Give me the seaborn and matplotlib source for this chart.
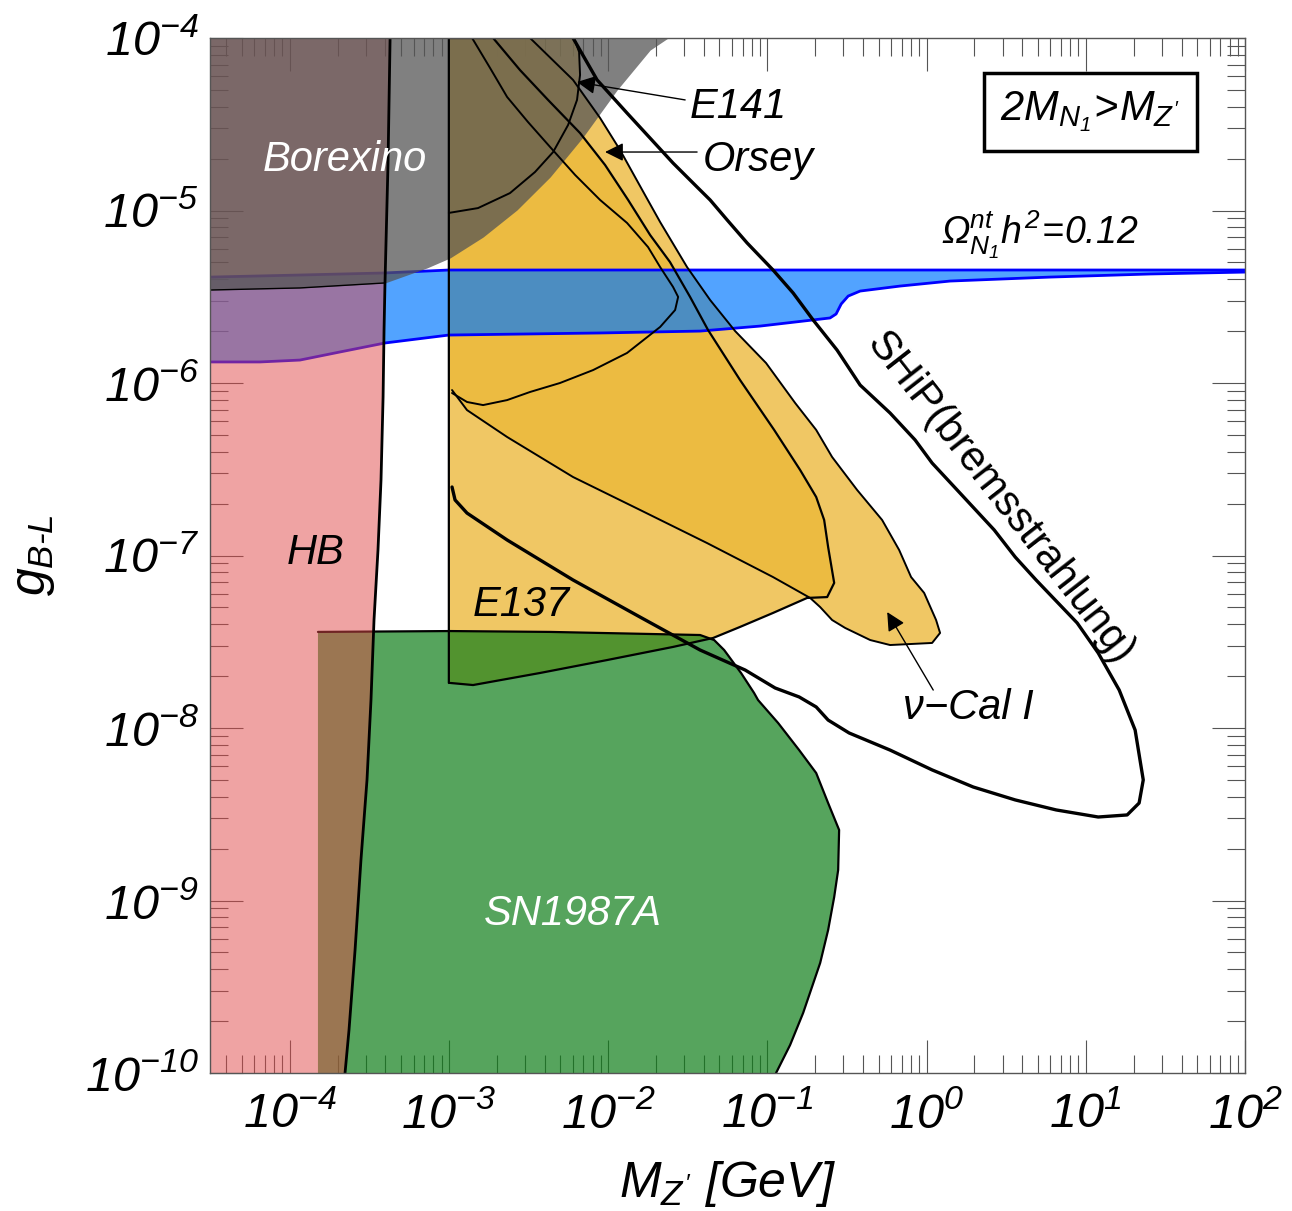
import numpy as np
import matplotlib
matplotlib.use("Agg")
import matplotlib.pyplot as plt
from matplotlib.ticker import LogLocator, NullFormatter
import seaborn as sns

# ------------------------------------------------------------------
# Exclusion contours in the (M_Z', g_B-L) plane, stored as
# log10(M_Z' / GeV) and log10(g_B-L)
# ------------------------------------------------------------------

# Horizontal-branch stars: excluded to the left of this line
hb_logm = [-3.369, -3.382, -3.401, -3.407, -3.413, -3.426, -3.445, -3.470,
           -3.489, -3.514, -3.552, -3.589, -3.627, -3.652]
hb_logg = [-4.000, -4.725, -5.420, -5.693, -6.081, -6.562, -6.968, -7.374,
           -7.838, -8.301, -8.765, -9.287, -9.751, -10.000]

# Borexino: excluded above this line
borexino_logm = [-4.5, -3.935, -3.401, -3.137, -2.992, -2.785, -2.572, -2.364,
                 -2.157, -1.943, -1.736, -1.623]
borexino_logg = [-5.461, -5.449, -5.420, -5.333, -5.275, -5.154, -4.997, -4.806,
                 -4.574, -4.301, -4.070, -4.000]

# Relic density band, Omega h^2 = 0.12 (upper and lower edges)
relic_top_logm = [-4.5, -3.935, -3.401, -3.0, -1.0, 0.5, 2.0]
relic_top_logg = [-5.386, -5.374, -5.362, -5.345, -5.345, -5.345, -5.345]
relic_bot_logm = [-4.5, -4.186, -3.935, -3.683, -3.401, -3.0, -2.050, -1.422,
                  -1.045, -0.606, -0.568, -0.536, -0.492, -0.417, -0.166, 0.148,
                  0.776, 1.405, 2.0]
relic_bot_logg = [-5.878, -5.878, -5.867, -5.820, -5.768, -5.722, -5.710, -5.699,
                  -5.670, -5.623, -5.600, -5.542, -5.496, -5.467, -5.438, -5.409,
                  -5.386, -5.368, -5.357]

# SN1987A cooling region
sn_logm = [-3.822, -2.992, -2.364, -1.736, -1.422, -1.334, -1.271, -1.165,
           -1.083, -1.058, -0.932, -0.800, -0.693, -0.618, -0.549, -0.555,
           -0.580, -0.618, -0.668, -0.775, -0.857, -0.945, -3.822]
sn_logg = [-7.443, -7.438, -7.443, -7.455, -7.461, -7.490, -7.548, -7.681,
           -7.797, -7.838, -7.971, -8.128, -8.261, -8.435, -8.591, -8.823,
           -8.980, -9.171, -9.362, -9.652, -9.838, -10.000, -10.000]

# E137 beam dump
e137_logm = [-3.0, -3.0, -2.722, -2.553, -2.377, -2.176, -2.019, -1.874, -1.736,
             -1.611, -1.485, -1.372, -1.171, -0.957, -0.794, -0.693, -0.643,
             -0.618, -0.580, -0.624, -0.750, -0.964, -1.171, -1.340, -1.592,
             -2.006, -2.427, -2.848, -2.990]
e137_logg = [-7.739, -4.000, -4.000, -4.186, -4.359, -4.551, -4.736, -4.939,
             -5.142, -5.299, -5.501, -5.693, -5.983, -6.272, -6.504, -6.661,
             -6.794, -6.951, -7.159, -7.241, -7.246, -7.333, -7.414, -7.478,
             -7.530, -7.606, -7.681, -7.751, -7.739]

# nu-Cal I / Orsay beam dumps (outer envelope)
nucal_logm = [-3.0, -2.490, -2.220, -2.050, -1.925, -1.768, -1.673, -1.504,
              -1.359, -1.202, -1.008, -0.825, -0.693, -0.593, -0.436, -0.279,
              -0.172, -0.097, -0.015, 0.060, 0.085, 0.035, -0.229, -0.354,
              -0.511, -0.593, -0.668, -0.731, -0.964, -1.378, -1.799, -2.220,
              -2.634, -2.886, -2.980, -3.0]
nucal_logg = [-4.000, -4.000, -4.243, -4.464, -4.649, -4.910, -5.067, -5.328,
              -5.519, -5.699, -5.884, -6.116, -6.272, -6.429, -6.620, -6.794,
              -6.968, -7.125, -7.217, -7.374, -7.449, -7.507, -7.519, -7.490,
              -7.420, -7.374, -7.299, -7.246, -7.125, -6.928, -6.736, -6.545,
              -6.313, -6.157, -6.041, -6.041]

# E141 beam dump
e141_logm = [-3.0, -2.214, -2.182, -2.176, -2.195, -2.251, -2.345, -2.459,
             -2.616, -2.817, -3.0]
e141_logg = [-4.000, -4.000, -4.081, -4.214, -4.359, -4.504, -4.661, -4.777,
             -4.899, -4.986, -5.014]

# Orsay contour (outline only)
orsay_logm = [-2.854, -2.741, -2.634, -2.503, -2.364, -2.207, -2.050, -1.881,
              -1.749, -1.673, -1.592, -1.560, -1.579, -1.673, -1.881, -2.094,
              -2.302, -2.490, -2.634, -2.785, -2.886, -2.980]
orsay_logg = [-4.000, -4.174, -4.342, -4.487, -4.632, -4.794, -4.939, -5.072,
              -5.212, -5.328, -5.443, -5.501, -5.577, -5.675, -5.826, -5.925,
              -6.000, -6.052, -6.099, -6.128, -6.110, -6.058]

# SHiP (bremsstrahlung) projected sensitivity
ship_logm = [-2.980, -2.961, -2.886, -2.634, -2.220, -1.799, -1.422, -1.139,
             -0.951, -0.800, -0.693, -0.618, -0.486, -0.229, 0.035, 0.293,
             0.557, 0.814, 1.078, 1.260, 1.335, 1.361, 1.310, 1.210, 1.078,
             0.946, 0.688, 0.557, 0.425, 0.192, 0.035, -0.072, -0.229, -0.417,
             -0.562, -0.712, -0.838, -0.964, -1.127, -1.252, -1.359, -1.441,
             -1.592, -1.881, -2.069, -2.220]
ship_logg = [-6.603, -6.678, -6.754, -6.910, -7.142, -7.357, -7.548, -7.664,
             -7.768, -7.820, -7.878, -7.954, -8.029, -8.128, -8.243, -8.342,
             -8.417, -8.475, -8.516, -8.504, -8.435, -8.301, -8.012, -7.780,
             -7.565, -7.391, -7.142, -7.009, -6.852, -6.620, -6.464, -6.330,
             -6.174, -6.012, -5.809, -5.635, -5.478, -5.345, -5.188, -5.055,
             -4.939, -4.864, -4.725, -4.435, -4.243, -4.000]

xmajor_exp = list(range(-4, 3))
ymajor_exp = list(range(-10, -3))


def lin(v):
    return 10.0 ** np.asarray(v, dtype=float)


# ------------------------------------------------------------------
sns.set_style("ticks")
plt.rcParams["font.family"] = ["Liberation Sans", "DejaVu Sans"]
plt.rcParams["font.style"] = "italic"
plt.rcParams["text.color"] = "black"
plt.rcParams["axes.labelcolor"] = "black"
plt.rcParams["xtick.labelcolor"] = "black"
plt.rcParams["ytick.labelcolor"] = "black"
plt.rcParams["mathtext.fontset"] = "custom"
plt.rcParams["mathtext.rm"] = "Liberation Sans:italic"
plt.rcParams["mathtext.it"] = "Liberation Sans:italic"
plt.rcParams["mathtext.sf"] = "Liberation Sans:italic"
plt.rcParams["mathtext.bf"] = "Liberation Sans:italic:bold"

fig = plt.figure(figsize=(12.92, 12.11), dpi=100)
ax = fig.add_axes([210 / 1292, 1 - 1073 / 1211, 1035 / 1292, 1035 / 1211])
ax.set_xscale("log")
ax.set_yscale("log")
ax.set_xlim(10 ** -4.5, 1e2)
ax.set_ylim(1e-10, 1e-4)

orange = (236 / 255, 184 / 255, 56 / 255)
green = (15 / 255, 126 / 255, 25 / 255)
blue = (0 / 255, 120 / 255, 255 / 255)
red = (225 / 255, 73 / 255, 73 / 255)
grey = (85 / 255, 85 / 255, 85 / 255)

# beam-dump regions
for m, g in [(e137_logm, e137_logg), (nucal_logm, nucal_logg), (e141_logm, e141_logg)]:
    ax.fill(lin(m), lin(g), color=orange, alpha=0.78, lw=0, zorder=1)

# SN1987A
ax.fill(lin(sn_logm), lin(sn_logg), color=green, alpha=0.70, lw=0, zorder=2)

# relic density band
band_m = list(relic_top_logm) + list(relic_bot_logm[::-1])
band_g = list(relic_top_logg) + list(relic_bot_logg[::-1])
ax.fill(lin(band_m), lin(band_g), color=blue, alpha=0.68, lw=0, zorder=3)
for m, g in [(relic_top_logm, relic_top_logg), (relic_bot_logm, relic_bot_logg)]:
    sns.lineplot(x=lin(m), y=lin(g), sort=False, estimator=None, ax=ax,
                 color="#0000ff", lw=2.0, zorder=3.2)

# SN1987A outline
sns.lineplot(x=lin(sn_logm[:-1]), y=lin(sn_logg[:-1]), sort=False, estimator=None,
             ax=ax, color="k", lw=1.6, zorder=3.5)

# HB
ax.fill_betweenx(lin(hb_logg), 10 ** -4.5, lin(hb_logm), color=red, alpha=0.5,
                 lw=0, zorder=4)

# Borexino
ax.fill_between(lin(borexino_logm), lin(borexino_logg), 1e-4, color=grey,
                alpha=0.75, lw=0, zorder=5)


# black outlines
def outline(m, g, lw):
    sns.lineplot(x=lin(m), y=lin(g), sort=False, estimator=None, ax=ax,
                 color="k", lw=lw, zorder=6)


outline(hb_logm, hb_logg, 2.0)
outline(borexino_logm[:3], borexino_logg[:3], 1.0)
outline(e137_logm, e137_logg, 1.6)
outline(nucal_logm[1:-1], nucal_logg[1:-1], 1.4)
outline(e141_logm[1:], e141_logg[1:], 1.4)
outline(orsay_logm, orsay_logg, 1.4)
outline(ship_logm, ship_logg, 2.4)

# labels inside the plot
txt = dict(fontsize=30, style="italic", zorder=8, ha="center", va="center")
ax.text(10 ** -3.652, 10 ** -4.707, "Borexino", color="white", **txt)
ax.text(10 ** -3.834, 10 ** -6.986, "HB", color="k", **txt)
ax.text(10 ** -2.547, 10 ** -7.287, "E137", color="k", **txt)
ax.text(10 ** -2.220, 10 ** -9.078, "SN1987A", color="white", **txt)
ax.text(10 ** -1.183, 10 ** -4.40, "E141", color="k", **txt)
ax.text(10 ** -1.058, 10 ** -4.707, "Orsey", color="k", **txt)
ax.text(10 ** 0.261, 10 ** -7.884, "\u03bd\u2212Cal I", color="k", **txt)
ax.text(10 ** 0.462, 10 ** -6.667, "SHiP(bremsstrahlung)", color="k", fontsize=30,
        style="normal", rotation=-52, ha="center", va="center", zorder=8)
ax.text(10 ** 0.714, 10 ** -5.142, r"$\Omega^{nt}_{N_1}h^2\!=\!0.12$", color="k",
        fontsize=27, ha="center", va="center", zorder=8)
ax.text(10 ** 1.028, 10 ** -4.429, r"$2M_{N_1}\!>\!M_{Z'}$", color="k", fontsize=30,
        ha="center", va="center", zorder=8,
        bbox=dict(boxstyle="square,pad=0.4", fc="white", ec="k", lw=2.5))

arrow = dict(arrowstyle="-|>", color="k", lw=1.0, mutation_scale=28,
             shrinkA=0, shrinkB=0)
ax.annotate("", xy=(10 ** -2.195, 10 ** -4.255), xytext=(10 ** -1.516, 10 ** -4.359),
            arrowprops=arrow, zorder=8)
ax.annotate("", xy=(10 ** -2.019, 10 ** -4.661), xytext=(10 ** -1.441, 10 ** -4.661),
            arrowprops=arrow, zorder=8)
ax.annotate("", xy=(10 ** -0.247, 10 ** -7.328), xytext=(10 ** 0.042, 10 ** -7.780),
            arrowprops=arrow, zorder=8)

# axes, ticks and labels
ax.set_xticks(lin(xmajor_exp))
ax.set_xticklabels([rf"$10^{{{e}}}$" for e in xmajor_exp])
ax.set_yticks(lin(ymajor_exp))
ax.set_yticklabels([rf"$10^{{{e}}}$" for e in ymajor_exp])
for axis in (ax.xaxis, ax.yaxis):
    axis.set_minor_locator(LogLocator(base=10, subs=np.arange(2, 10), numticks=100))
    axis.set_minor_formatter(NullFormatter())
ax.set_xlim(10 ** -4.5, 1e2)
ax.set_ylim(1e-10, 1e-4)
ax.tick_params(which="both", direction="in", top=True, right=True,
               color="#555555", width=0.8, labelsize=35, labelcolor="black")
ax.tick_params(which="major", length=24)
ax.tick_params(which="minor", length=13)
ax.tick_params(axis="x", which="major", pad=14)
ax.tick_params(axis="y", which="major", pad=8)
for s in ax.spines.values():
    s.set_linewidth(1.0)
    s.set_color("#555555")
    s.set_zorder(9)

ax.set_xlabel(r"$M_{Z'}\ [GeV]$", fontsize=36, color="black")
ax.set_ylabel(r"$g_{B\text{-}L}$", fontsize=36, color="black")
ax.xaxis.set_label_coords(0.5, -0.083)
ax.yaxis.set_label_coords(-0.148, 0.5)

fig.savefig("out.png", dpi=100)
